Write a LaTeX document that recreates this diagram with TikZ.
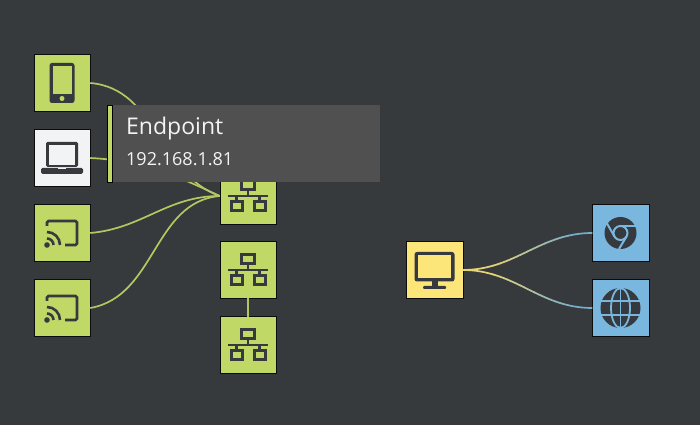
\documentclass[tikz,border=0pt]{standalone}
\usepackage{fontspec}
\setmainfont{Open Sans}
\usetikzlibrary{positioning}
\definecolor{bgdark}{HTML}{363A3D}
\definecolor{icondark}{HTML}{36393D}
\definecolor{leafgreen}{HTML}{C0D865}
\definecolor{sunyellow}{HTML}{FCE679}
\definecolor{skyblue}{HTML}{79B7DF}
\definecolor{paperwhite}{HTML}{F2F3F5}
\definecolor{tipgrey}{HTML}{505050}
\tikzset{
  box/.style={draw=black!80!bgdark, line width=0.5pt, minimum size=56.5pt, inner sep=0pt, outer sep=0pt},
  greenbox/.style={box, fill=leafgreen},
  whitebox/.style={box, fill=paperwhite},
  yellowbox/.style={box, fill=sunyellow},
  bluebox/.style={box, fill=skyblue},
  link/.style={line width=1.7pt, leafgreen!90!bgdark},
  phoneicon/.pic={
    \fill[icondark, rounded corners=2.5pt] (-12.5,-20) rectangle (12.5,20);
    \fill[leafgreen] (-9.5,-11) rectangle (9.5,16.5);
    \fill[leafgreen] (0,-15.5) circle[radius=2.5];
  },
  laptopicon/.pic={
    \fill[icondark, rounded corners=1.5pt] (-16,-9) rectangle (16,16);
    \fill[paperwhite] (-13,-7.5) rectangle (13,13);
    \fill[icondark, rounded corners=1.5pt] (-21,-16) rectangle (21,-10);
    \fill[paperwhite] (-4,-10) rectangle (4,-11.5);
  },
  casticon/.pic={
    \draw[icondark, line width=2.6pt, rounded corners=1.5pt] (-15,7) -- (-15,12) -- (15,12) -- (15,-12) -- (3,-12);
    \fill[icondark] (-15,-12) circle[radius=2.8];
    \draw[icondark, line width=2.6pt] (-15,-5.5) arc[start angle=90, end angle=0, radius=6.5];
    \draw[icondark, line width=2.6pt] (-15,1) arc[start angle=90, end angle=0, radius=13];
  },
  hubicon/.pic={
    \draw[icondark, line width=3pt] (-6.5,6) rectangle (6.5,15);
    \draw[icondark, line width=2.4pt] (-20,0) -- (20,0);
    \draw[icondark, line width=2.4pt] (0,6) -- (0,0);
    \draw[icondark, line width=2.4pt] (-11.5,0) -- (-11.5,-5);
    \draw[icondark, line width=2.4pt] (11.5,0) -- (11.5,-5);
    \draw[icondark, line width=3pt] (-17,-5.5) rectangle (-6,-15);
    \draw[icondark, line width=3pt] (6,-5.5) rectangle (17,-15);
  },
  monitoricon/.pic={
    \fill[icondark, rounded corners=2.5pt] (-20,-11.5) rectangle (20,18);
    \fill[sunyellow] (-16.5,-8) rectangle (16.5,14.5);
    \fill[icondark] (-3,-11) rectangle (3,-17);
    \fill[icondark, rounded corners=1pt] (-11.5,-16) rectangle (11.5,-19);
  },
  chromeicon/.pic={
    \fill[icondark] (0,0) circle[radius=16];
    \draw[skyblue, line width=2pt] (0,0) circle[radius=7];
    \draw[skyblue, line width=2pt] (0,7) -- (15.5,7);
    \draw[skyblue, line width=2pt] (-6,-3.5) -- (-13.5,9.5);
    \draw[skyblue, line width=2pt] (6,-3.5) -- (-1.5,-16);
  },
  globeicon/.pic={
    \fill[icondark] (0,0) circle[radius=20];
    \draw[skyblue, line width=1.8pt] (0,0) ellipse[x radius=9.5, y radius=20];
    \draw[skyblue, line width=1.8pt] (0,20) -- (0,-20);
    \draw[skyblue, line width=1.8pt] (-20,7) -- (20,7);
    \draw[skyblue, line width=1.8pt] (-20,-7) -- (20,-7);
  },
}
% yellow at the source, blue at the target
\newcommand{\fadelink}[2]{
  \foreach \i in {0,...,24}{
    \pgfmathsetmacro{\mixval}{100-4*\i}
    \pgfmathsetmacro{\cutx}{\i==0?0:490+3.4*\i}
    \pgfmathsetmacro{\cutend}{\i==24?600:490+3.4*\i+3.8}
    \begin{scope}
      \clip (\cutx,0) rectangle (\cutend,425);
      \draw[line width=1.7pt, color=sunyellow!\mixval!skyblue!90!bgdark] (#1.east) to[out=0,in=180] (#2.west);
    \end{scope}
  }
}
\begin{document}
\begin{tikzpicture}[x=1pt,y=1pt, node distance=18.5pt]
\useasboundingbox (0,0) rectangle (700,425);
\fill[bgdark] (0,0) rectangle (700,425);

% Nodes
\node[greenbox] (phone) at (62,342) {};
\node[whitebox, below=of phone] (laptop) {};
\node[greenbox, below=of laptop] (castA) {};
\node[greenbox, below=of castA] (castB) {};
\node[greenbox] (hubA) at (248,229) {};
\node[greenbox] (hubB) at (248,155) {};
\node[greenbox, below=of hubB] (hubC) {};
\node[yellowbox] (screen) at (434.5,155) {};
\node[bluebox] (chrome) at (620.5,192) {};
\node[bluebox, below=of chrome] (globe) {};

% Links
\draw[link] (phone.east) to[out=-5,in=160] (hubA.west);
\draw[link] (laptop.east) to[out=-3,in=155] (hubA.west);
\draw[link] (castA.east) to[out=5,in=180] (hubA.west);
\draw[link] (castB.east) to[out=10,in=185] (hubA.west);
\draw[link] (hubB.south) -- (hubC.north);
\fadelink{screen}{chrome}
\fadelink{screen}{globe}

% Icons
\pic at (phone) {phoneicon};
\pic at (laptop) {laptopicon};
\pic at (castA) {casticon};
\pic at (castB) {casticon};
\foreach \hubname in {hubA,hubB,hubC}{
  \pic at (\hubname) {hubicon};
}
\pic at (screen) {monitoricon};
\pic at (chrome) {chromeicon};
\pic at (globe) {globeicon};

% Tooltip
\node[fill=tipgrey, draw=none, anchor=north west, minimum width=268pt, minimum height=77pt, inner sep=0pt] (tip) at (112,320) {};
\node[fill=leafgreen, draw=black, line width=0.3pt, anchor=north east, minimum width=5pt, minimum height=77pt, inner sep=0pt] (tipbar) at (112,320) {};
\node[anchor=base west, inner sep=0pt, text=paperwhite, font=\fontsize{23}{26}\selectfont] (tiptitle) at (126,290) {Endpoint};
\node[anchor=base west, inner sep=0pt, text=paperwhite, font=\fontsize{18}{20}\selectfont] (tipaddr) at (126,259) {192.168.1.81};
\end{tikzpicture}
\end{document}
